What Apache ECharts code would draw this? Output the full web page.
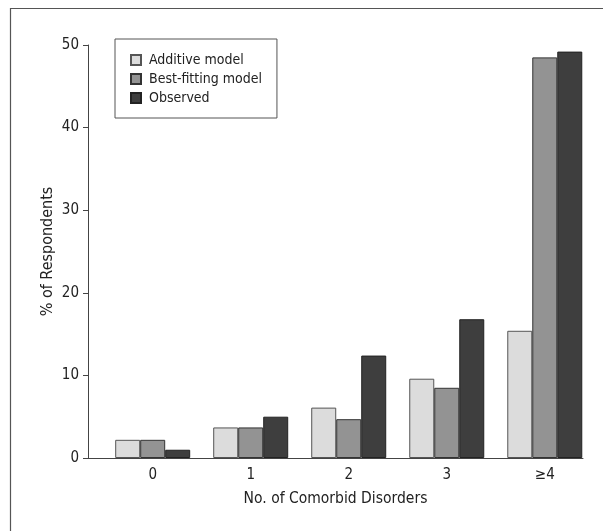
<!DOCTYPE html>
<html>
<head>
<meta charset="utf-8">
<script src="https://cdn.jsdelivr.net/npm/echarts@6/dist/echarts.min.js"></script>
<style>
html,body{margin:0;padding:0;background:#fff;}
#chart{width:603px;height:531px;}
</style>
</head>
<body>
<div id="chart"></div>
<script>
var categories = ['0', '1', '2', '3', '\u22654'];
var additiveModel = [2.2, 3.7, 6.1, 9.6, 15.4];
var bestFittingModel = [2.2, 3.7, 4.7, 8.5, 48.5];
var observed = [1.0, 5.0, 12.4, 16.8, 49.2];
var yTicks = [0, 10, 20, 30, 40, 50];

var FONT = "'Liberation Sans Narrow', 'DejaVu Sans Condensed', 'Liberation Sans', sans-serif";

function toPoints(arr) { return arr.map(function (v, i) { return [i, v]; }); }

var chart = echarts.init(document.getElementById('chart'), null, {renderer: 'canvas'});
var barCommon = {
  type: 'bar',
  barWidth: 25,
  barGap: '0%',
  animation: false
};
chart.setOption({
  backgroundColor: '#fff',
  animation: false,
  graphic: [{
    type: 'rect',
    shape: {x: 10.5, y: 8.5, width: 700, height: 600},
    style: {fill: 'none', stroke: '#555', lineWidth: 1.2},
    silent: true
  }],
  grid: {left: 88, right: 20, top: 45, bottom: 73},
  legend: {
    left: 115, top: 39,
    orient: 'vertical',
    icon: 'rect',
    itemWidth: 10, itemHeight: 10,
    itemGap: 3,
    padding: [13, 15, 12, 15],
    borderColor: '#555', borderWidth: 1,
    textStyle: {fontFamily: FONT, fontSize: 14, color: '#222', lineHeight: 16, padding: [0, 0, 0, 3]},
    data: ['Additive model', 'Best-fitting model', 'Observed']
  },
  xAxis: {
    type: 'value',
    min: -0.66, max: 4.39,
    name: 'No. of Comorbid Disorders',
    nameLocation: 'middle',
    nameGap: 33,
    nameMoveOverlap: false,
    nameTextStyle: {fontFamily: FONT, fontSize: 15.5, color: '#222'},
    axisLine: {show: true, onZero: false, lineStyle: {color: '#444', width: 1}},
    axisTick: {show: false},
    splitLine: {show: false},
    axisLabel: {
      customValues: [0, 1, 2, 3, 4],
      formatter: function (v) { return categories[Math.round(v)]; },
      fontFamily: FONT, fontSize: 15, color: '#222', margin: 10
    }
  },
  yAxis: {
    type: 'value',
    min: 0, max: 50, interval: 10,
    name: '% of Respondents',
    nameLocation: 'middle',
    nameGap: 32,
    nameMoveOverlap: false,
    nameTextStyle: {fontFamily: FONT, fontSize: 16, color: '#222'},
    axisLine: {show: true, onZero: false, lineStyle: {color: '#444', width: 1}},
    axisTick: {show: true, length: 5, lineStyle: {color: '#444'}},
    splitLine: {show: false},
    axisLabel: {
      customValues: yTicks,
      fontFamily: FONT, fontSize: 15, color: '#222', margin: 9
    }
  },
  series: [
    Object.assign({}, barCommon, {
      name: 'Additive model',
      data: toPoints(additiveModel),
      itemStyle: {color: '#dcdcdc', borderColor: '#555', borderWidth: 1}
    }),
    Object.assign({}, barCommon, {
      name: 'Best-fitting model',
      data: toPoints(bestFittingModel),
      itemStyle: {color: '#939393', borderColor: '#333', borderWidth: 1}
    }),
    Object.assign({}, barCommon, {
      name: 'Observed',
      data: toPoints(observed),
      itemStyle: {color: '#3e3e3e', borderColor: '#222', borderWidth: 1}
    })
  ]
});
</script>
</body>
</html>
